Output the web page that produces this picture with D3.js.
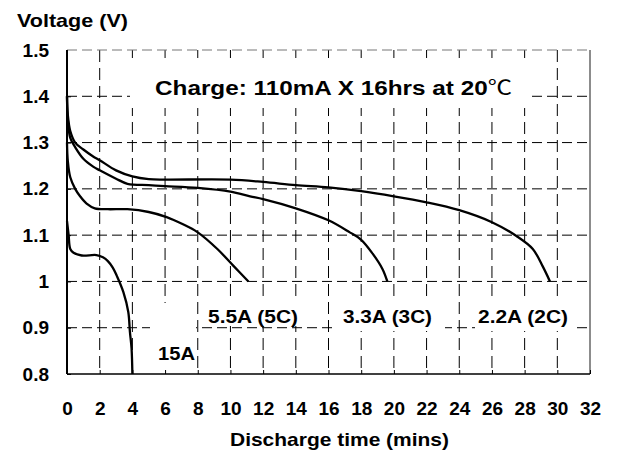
<!DOCTYPE html>
<html lang="en">
<head>
  <meta charset="UTF-8">
  <title>Discharge curves</title>
  <style>
    body { margin: 0; background: #fff; }
    svg { display: block; font-family: 'Liberation Sans', Arial, sans-serif; font-weight: bold; }
    .grid line { stroke-width: 1; }
    .curve { fill: none; stroke: #000; stroke-width: 2.3; }
  </style>
</head>
<body>
  <svg id="chart" width="619" height="452"></svg>

  <script src="https://d3js.org/d3.v7.min.js"></script>
  <script>
    // tick values
    const xTicks = [0, 2, 4, 6, 8, 10, 12, 14, 16, 18, 20, 22, 24, 26, 28, 30, 32];
    const yTicks = [0.8, 0.9, 1, 1.1, 1.2, 1.3, 1.4, 1.5];

    // discharge curves, [minutes, volts]
    const curve22A = [[0, 1.40], [0.05, 1.36], [0.2, 1.325], [0.5, 1.30], [1, 1.285], [1.6, 1.27], [2, 1.262], [3, 1.24], [4, 1.227], [5, 1.221], [6, 1.22], [10, 1.22], [12, 1.215], [14, 1.208], [16, 1.203], [18, 1.195], [20, 1.184], [22, 1.171], [24, 1.154], [26, 1.128], [27.5, 1.098], [28.5, 1.07], [29.1, 1.033], [29.55, 1.0]];
    const curve33A = [[0, 1.40], [0.05, 1.35], [0.2, 1.31], [0.5, 1.29], [1, 1.265], [1.6, 1.248], [2, 1.24], [3, 1.222], [3.7, 1.211], [5, 1.208], [6, 1.206], [8, 1.202], [10, 1.194], [11.2, 1.184], [12, 1.178], [14, 1.158], [16, 1.132], [17.3, 1.106], [18, 1.09], [18.7, 1.06], [19.3, 1.027], [19.6, 1.0]];
    const curve55A = [[0, 1.30], [0.05, 1.26], [0.2, 1.225], [0.5, 1.20], [0.8, 1.184], [1.2, 1.168], [1.7, 1.158], [2.5, 1.156], [3.7, 1.156], [5, 1.15], [6.1, 1.139], [7, 1.125], [8, 1.106], [9.2, 1.07], [10.2, 1.033], [11.1, 1.0]];
    const curve15A = [[0, 1.13], [0.1, 1.10], [0.2, 1.07], [0.4, 1.062], [0.9, 1.056], [1.8, 1.057], [2.2, 1.052], [2.5, 1.044], [2.8, 1.03], [3.05, 1.012], [3.45, 0.977], [3.75, 0.934], [3.85, 0.891], [3.95, 0.855], [4.0, 0.80]];

    const curves = [curve22A, curve33A, curve55A, curve15A];

    (function() {
      const svg = d3.select('#chart');
      const x0 = 67, x1 = 590, y0 = 50, y1 = 374;

      const x = d3.scaleLinear().domain([0, 32]).range([x0, x1]);
      const y = d3.scaleLinear().domain([0.8, 1.5]).range([y1, y0]);

      // gridlines
      const grid = svg.append('g').attr('class', 'grid');
      grid.selectAll('line.v')
        .data(xTicks.filter(d => d > 0 && d < 32))
        .enter().append('line')
        .attr('x1', d => x(d)).attr('x2', d => x(d))
        .attr('y1', y0).attr('y2', y1)
        .attr('stroke', '#000')
        .attr('stroke-dasharray', '12,6');
      grid.selectAll('line.h')
        .data(yTicks.filter(d => d > 0.8))
        .enter().append('line')
        .attr('x1', x0).attr('x2', x1)
        .attr('y1', d => y(d)).attr('y2', d => y(d))
        .attr('stroke-dasharray', '10,5')
        .attr('stroke', d => d === 1.5 ? '#777' : '#000');

      // right border
      svg.append('line')
        .attr('x1', x1).attr('x2', x1).attr('y1', y0).attr('y2', y1)
        .attr('stroke', '#666').attr('stroke-width', 1.5);

      // white boxes behind the text labels
      const boxes = [
        [130, 58, 400, 50],
        [150, 303, 46, 70],
        [203, 298, 122, 28],
        [335, 297, 110, 34],
        [475, 297, 101, 34]
      ];
      svg.selectAll('rect.box')
        .data(boxes)
        .enter().append('rect')
        .attr('x', d => d[0]).attr('y', d => d[1])
        .attr('width', d => d[2]).attr('height', d => d[3])
        .attr('fill', '#fff');

      // curves
      const line = d3.line()
        .x(d => x(d[0]))
        .y(d => y(d[1]))
        .curve(d3.curveCatmullRom.alpha(0.5));
      svg.selectAll('path.curve')
        .data(curves)
        .enter().append('path')
        .attr('class', 'curve')
        .attr('d', line);

      // axes
      const xAxis = svg.append('g')
        .attr('transform', `translate(0,${y1})`)
        .call(d3.axisBottom(x).tickValues(xTicks).tickSize(-4).tickPadding(28));
      const yAxis = svg.append('g')
        .attr('transform', `translate(${x0},0)`)
        .call(d3.axisLeft(y).tickValues(yTicks).tickFormat(d => String(d)).tickSize(-4).tickPadding(18));
      [xAxis, yAxis].forEach(g => {
        g.attr('font-family', null);
        g.select('.domain').remove();
        g.selectAll('.tick line').attr('stroke', '#000');
        g.selectAll('text').attr('font-size', 19).attr('fill', '#000');
      });
      yAxis.selectAll('.tick').filter(d => d === 1.5).select('line').remove();

      svg.append('line')
        .attr('x1', x0).attr('x2', x1).attr('y1', y1).attr('y2', y1)
        .attr('stroke', '#000').attr('stroke-width', 1.5);
      svg.append('line')
        .attr('x1', x0).attr('x2', x0).attr('y1', y0).attr('y2', y1)
        .attr('stroke', '#000').attr('stroke-width', 2);

      // titles and labels (the source text is a bit stretched sideways)
      svg.append('text').attr('x', 17).attr('y', 27).attr('font-size', 19)
        .attr('textLength', 111).attr('lengthAdjust', 'spacingAndGlyphs').text('Voltage (V)');
      svg.append('text').attr('x', 230).attr('y', 446).attr('font-size', 19)
        .attr('textLength', 219).attr('lengthAdjust', 'spacingAndGlyphs').text('Discharge time (mins)');

      const charge = svg.append('text').attr('x', 155).attr('y', 95).attr('font-size', 20)
        .attr('textLength', 357).attr('lengthAdjust', 'spacingAndGlyphs');
      charge.append('tspan').text('Charge: 110mA X 16hrs at 20');
      charge.append('tspan').attr('font-weight', 'normal')
        .attr('font-family', "'Noto Sans CJK SC', 'DejaVu Sans', sans-serif").text('℃');

      const labels = [
        ['15A', 158, 360, 37],
        ['5.5A (5C)', 208, 323, 90],
        ['3.3A (3C)', 343, 323, 89],
        ['2.2A (2C)', 478, 323, 90]
      ];
      svg.selectAll('text.lbl')
        .data(labels)
        .enter().append('text')
        .attr('class', 'lbl')
        .attr('x', d => d[1]).attr('y', d => d[2])
        .attr('font-size', 19)
        .attr('textLength', d => d[3]).attr('lengthAdjust', 'spacingAndGlyphs')
        .text(d => d[0]);
    })();
  </script>
</body>
</html>
